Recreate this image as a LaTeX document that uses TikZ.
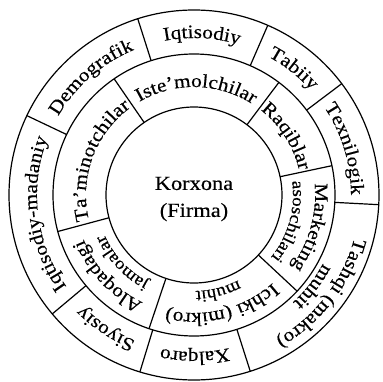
\documentclass[tikz,border=0pt]{standalone}
\usepackage{fontspec}
\setmainfont{Liberation Serif}[FakeStretch=1.12,FakeBold=0.4]
\usetikzlibrary{decorations.text}

% text set along an arc: radius, start angle, end angle, font size, text
\newcommand{\arctext}[5]{%
  \path[decorate,decoration={text along path,text align=center,
      text={|\fontsize{#4}{#4}\selectfont|#5}}]
    (#2:#1pt) arc[start angle=#2,end angle=#3,radius=#1pt];}

\begin{document}
\begin{tikzpicture}[ring/.style={line width=1.2pt},spoke/.style={line width=1.2pt}]
  \useasboundingbox (-194pt,-186pt) rectangle (189pt,195pt);
  % circles
  \draw[ring] (0,0) circle[radius=88pt];
  \draw[ring] (0,0) circle[radius=141pt];
  \draw[ring] (0,0) circle[radius=185pt];
  % outer ring borders
  \draw[spoke] (107.7:141pt) -- (107.7:185pt);
  \draw[spoke] (66.5:141pt) -- (66.5:185pt);
  \draw[spoke] (37:141pt) -- (37:185pt);
  \draw[spoke] (-3:141pt) -- (-3:185pt);
  \draw[spoke] (-72.3:141pt) -- (-72.3:185pt);
  \draw[spoke] (-107:141pt) -- (-107:185pt);
  \draw[spoke] (-140:141pt) -- (-140:185pt);
  \draw[spoke] (154.6:141pt) -- (154.6:185pt);
  % middle ring borders
  \draw[spoke] (124.5:88pt) -- (124.5:141pt);
  \draw[spoke] (53:88pt) -- (53:141pt);
  \draw[spoke] (12:88pt) -- (12:141pt);
  \draw[spoke] (-43:88pt) -- (-43:141pt);
  \draw[spoke] (-108.6:88pt) -- (-108.6:141pt);
  \draw[spoke] (195:88pt) -- (195:141pt);
  % centre
  \node[align=center,font=\fontsize{20}{27}\selectfont] (firma) at (0,-4pt) {Korxona\\(Firma)};
  % outer ring
  \arctext{157}{154.6}{107.7}{19}{Demografik}
  \arctext{157}{107.7}{66.5}{19}{Iqtisodiy}
  \arctext{157}{66.5}{37}{19}{Tabiiy}
  \arctext{157}{37}{-3}{19}{Texnilogik}
  \arctext{166}{-3}{-72.3}{19}{Tashqi (makro)}
  \arctext{146}{-3}{-72.3}{19}{muhit}
  \arctext{157}{-72.3}{-107}{19}{Xalqaro}
  \arctext{157}{-107}{-140}{19}{Siyosiy}
  \arctext{157}{220}{154.6}{19}{Iqtisodiy-madaniy}
  % middle ring
  \arctext{108}{124.5}{53}{19}{Iste'molchilar}
  \arctext{108}{53}{12}{19}{Raqiblar}
  \arctext{121}{12}{-43}{19}{Marketing}
  \arctext{99}{12}{-43}{17}{asoschilari}
  \arctext{118}{-43}{-108.6}{19}{Ichki (mikro)}
  \arctext{96}{-43}{-108.6}{17}{muhit}
  \arctext{119}{251.4}{195}{19}{Aloqadagi}
  \arctext{98}{251.4}{195}{17}{jamoalar}
  \arctext{108}{195}{124.5}{19}{Ta'minotchilar}
\end{tikzpicture}
\end{document}
